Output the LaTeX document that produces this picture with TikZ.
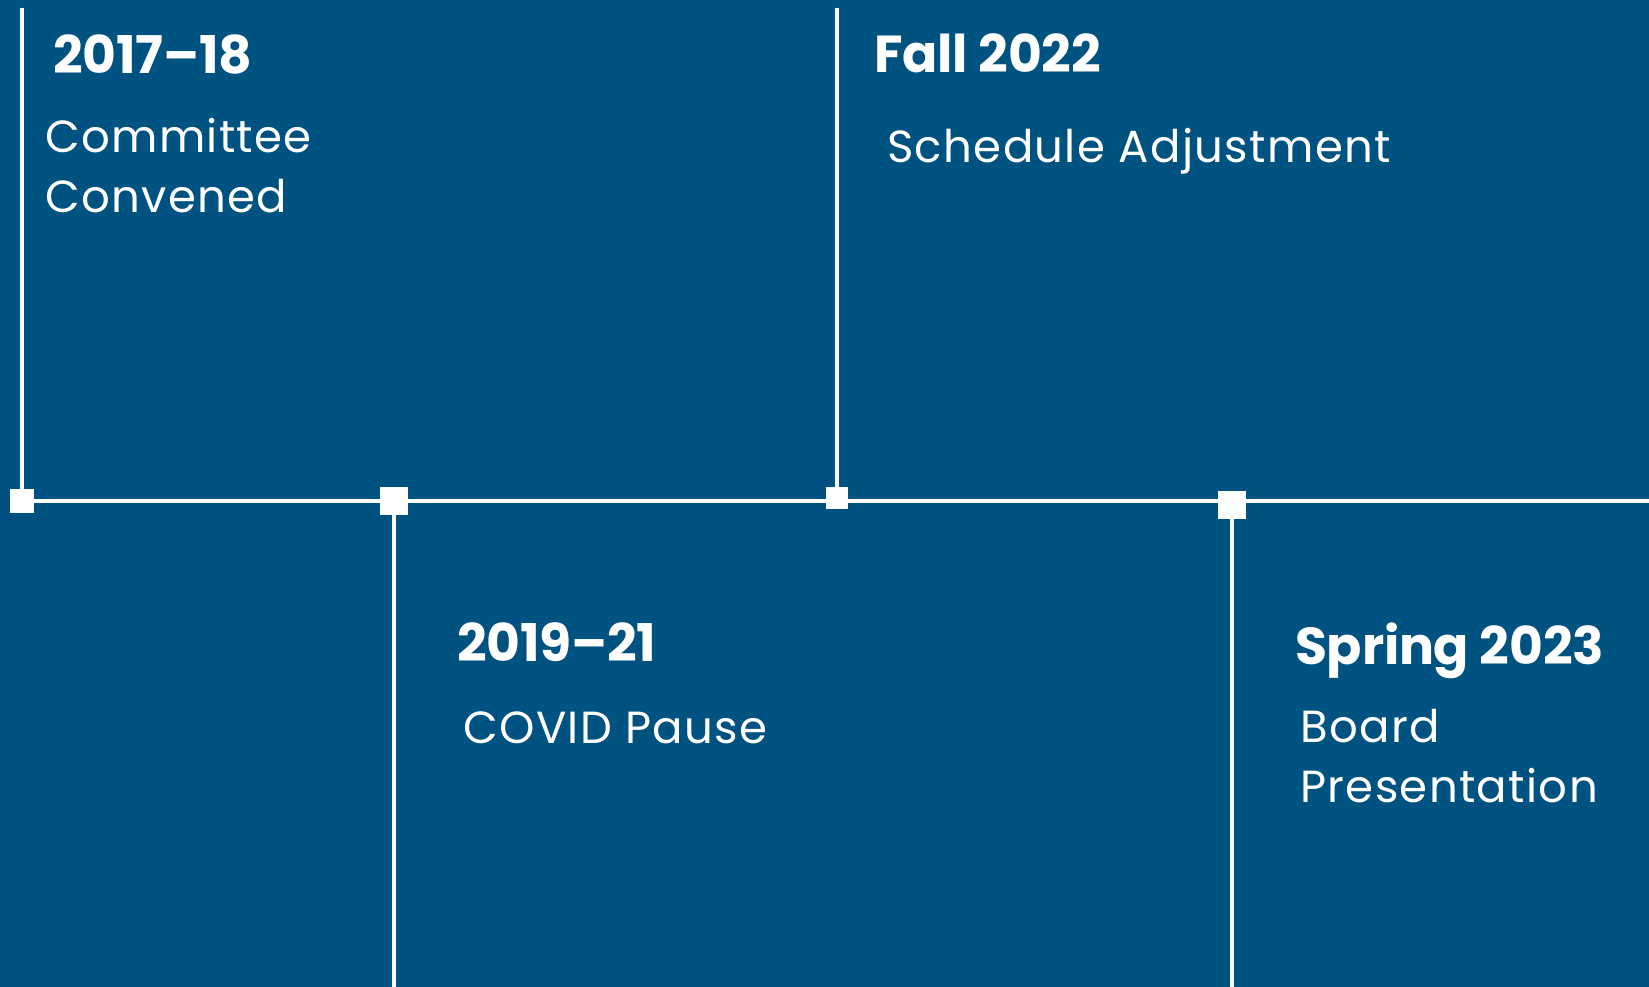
\documentclass[tikz,border=0pt]{standalone}
\usepackage{fontspec}
\setmainfont{Poppins}
\usetikzlibrary{positioning}
\definecolor{navy}{RGB}{0,82,128}
\tikzset{milestone/.style={fill=white, rectangle, inner sep=0pt, minimum size=#1}}
\tikzset{rail/.style={white, line width=4.8pt}}
\tikzset{yr/.style={anchor=base west, inner sep=0pt, text=white, font=\fontsize{52}{60}\selectfont\bfseries\addfontfeatures{LetterSpace=-0.5}}}
\tikzset{ev/.style={anchor=base west, inner sep=0pt, text=white, align=left, font=\fontsize{45}{60}\selectfont\addfontfeatures{LetterSpace=3}}}

\begin{document}
\begin{tikzpicture}[x=1pt, y=-1pt]
        \fill[navy] (0,0) rectangle (1649,987);
        \useasboundingbox (0,0) rectangle (1649,987);

        \node[milestone=24pt] (m1) at (22,501) {};
        \node[milestone=28pt] (m2) at (394,501) {};
        \node[milestone=22pt] (m3) at (837,498) {};
        \node[milestone=28pt] (m4) at (1232,505) {};

        \coordinate (t1) at (22,8);
        \coordinate (t3) at (837,8);
        \coordinate (b2) at (394,987);
        \coordinate (b4) at (1232,987);
        \coordinate (rim) at (1649,501);

        % multi-line texts sit on their last line
        \node[yr] (y1) at (53,74) {2017–18};
        \node[ev] (e1) at (45,213) {Committee\\Convened};

        \node[yr] (y3) at (457,661) {2019–21};
        \node[ev] (e3) at (463,743) {COVID Pause};

        \node[yr] (y2) at (874,73) {Fall 2022};
        \node[ev] (e2) at (887,163) {Schedule Adjustment};

        \node[yr] (y4) at (1295,664) {Spring 2023};
        \node[ev] (e4) at (1300,802) {Board\\Presentation};

        \draw[rail] (m1.center) -- (rim);
        \draw[rail] (t1) -- (m1.center);
        \draw[rail] (m2.center) -- (b2);
        \draw[rail] (t3) -- (m3.center);
        \draw[rail] (m4.center) -- (b4);
    \end{tikzpicture}
\end{document}
